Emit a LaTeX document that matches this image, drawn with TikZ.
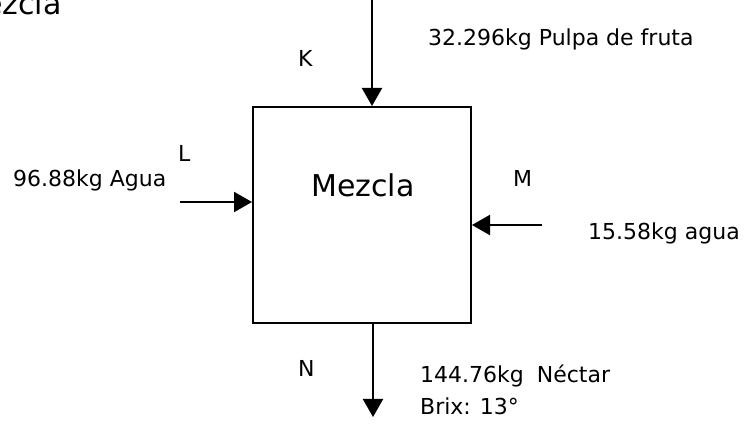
\documentclass[tikz,border=0pt]{standalone}
\usepackage{fontspec}
\setmainfont{DejaVu Sans}
\usetikzlibrary{arrows.meta}
\tikzset{
  txt/.style={inner sep=0pt, anchor=base west, font=\fontsize{22}{26}\selectfont},
  big/.style={inner sep=0pt, anchor=base west, font=\fontsize{30}{36}\selectfont},
  flow/.style={line width=2pt, -{Triangle[length=18pt,width=20pt]}},
  boxst/.style={draw, line width=2pt, minimum width=218pt, minimum height=216pt, inner sep=0pt}
}
\begin{document}
\begin{tikzpicture}[x=1pt,y=-1pt]
\useasboundingbox (0,0) rectangle (748,430);
\clip (0,0) rectangle (748,430);
\node[boxst] (mix) at (362,215) {};
\node[big] (title) at (-42,15) {Mezcla};
\node[big] (mixlabel) at (311,197) {Mezcla};
\node[txt] (k) at (298,67) {K};
\node[txt] (kt) at (428,46) {32.296kg Pulpa de fruta};
\node[txt] (l) at (178,162) {L};
\node[txt] (lt) at (13,187) {96.88kg Agua};
\node[txt] (m) at (513,187) {M};
\node[txt] (mt) at (588,240) {15.58kg agua};
\node[txt] (n) at (298,377) {N};
\node[txt] (nt) at (420,383) {144.76kg\hspace{13pt}Néctar};
\node[txt] (nb) at (420,415) {Brix:\hspace{9pt}13°};
\coordinate (kin) at (372,0);
\coordinate (lin) at (180,202);
\coordinate (min) at (542,225);
\coordinate (nout) at (373,417);
\draw[flow] (kin) -- (kin |- mix.north);
\draw[flow] (lin) -- (mix.west |- lin);
\draw[flow] (min) -- (mix.east |- min);
\draw[flow] (nout |- mix.south) -- (nout);
\end{tikzpicture}
\end{document}
